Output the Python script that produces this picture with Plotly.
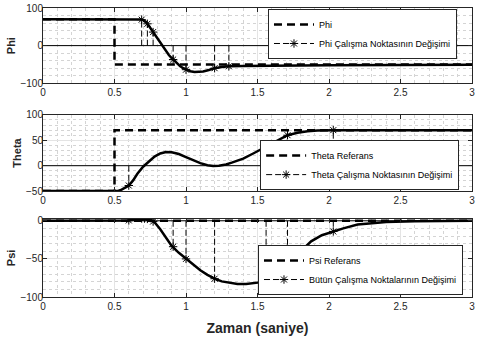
import plotly.graph_objects as go

# ---------------- data ----------------
# reference commands (step at t = 0.5 s)
t_ref = [0, 0.5, 0.5, 3]
phi_ref = [70, 70, -50, -50]
theta_ref = [-50, -50, 70, 70]
psi_ref = [0, 0, 0, 0]

# Phi response
t_phi = [0, 0.5, 0.6, 0.66, 0.68, 0.70, 0.72, 0.74, 0.76, 0.78, 0.80, 0.82, 0.84,
         0.86, 0.88, 0.90, 0.92, 0.94, 0.96, 0.98, 1.00, 1.03, 1.06, 1.09, 1.12,
         1.16, 1.20, 1.25, 1.30, 1.40, 1.60, 1.80, 2.00, 2.50, 3.00]
phi = [70, 70, 70, 70, 69.5, 68, 63, 53, 42, 30, 18, 7, -4,
       -15, -25, -33, -41, -48, -55, -60, -64, -68, -70, -70.5, -69,
       -65, -60, -57, -55, -54, -53, -52.5, -52, -51.5, -51]

# Theta response
t_theta = [0, 0.5, 0.52, 0.55, 0.58, 0.60, 0.63, 0.66, 0.70, 0.74, 0.78, 0.82,
           0.86, 0.90, 0.95, 1.00, 1.05, 1.10, 1.15, 1.19, 1.23, 1.28, 1.32,
           1.40, 1.47, 1.53, 1.56, 1.60, 1.65, 1.71, 1.78, 1.85, 1.92, 2.03, 3.00]
theta = [-50, -50, -50, -47, -43, -39, -29, -16, -2, 9, 18, 24,
         27, 26.5, 23, 17, 10.5, 5, 1, -0.5, 0, 2.5, 6,
         14, 24, 33, 37.5, 44, 52, 60, 65, 68, 69.5, 70, 70]

# Psi response
t_psi = [0, 0.5, 0.55, 0.60, 0.65, 0.69, 0.72, 0.75, 0.78, 0.82, 0.86, 0.90,
         0.95, 1.00, 1.05, 1.10, 1.15, 1.20, 1.25, 1.30, 1.36, 1.42, 1.48,
         1.53, 1.56, 1.60, 1.65, 1.70, 1.75, 1.80, 1.875, 1.95, 2.03, 2.10,
         2.20, 2.30, 2.40, 2.60, 3.00]
psi = [0, 0, 0, 0.5, 2, 3, 3, 1.5, -2, -11, -22, -33,
       -42, -50, -58, -65, -71, -76, -79.5, -81.5, -83, -83, -82,
       -80.5, -79, -75, -68, -59, -49, -40, -27, -19, -14, -10,
       -5, -3, -1.5, -0.5, 0]

# operating point changes
op_t_phi = [0.69, 0.73, 0.77, 0.91, 1.00, 1.20, 1.30]
op_v_phi = [69, 58, 36, -37, -64, -60, -55]
op_t_theta = [0.60, 1.56, 1.71, 2.03]
op_v_theta = [-39, 37.5, 60, 70]
op_t_psi = [0.60, 0.69, 0.71, 0.73, 0.77, 0.91, 1.00, 1.20, 1.56, 1.71, 2.03]
op_v_psi = [0.5, 3, 3, 2.5, -1, -34, -50, -76, -79, -57, -14]

x_ticks = [0, 0.5, 1, 1.5, 2, 2.5, 3]
x_range = [0, 3]

FONT = "Liberation Sans, Arial, Helvetica, sans-serif"
INK = "#262626"

fig = go.Figure()


def stem_xy(ts, vs):
    xs, ys = [], []
    for t, v in zip(ts, vs):
        xs += [t, t, None]
        ys += [0, v, None]
    return xs, ys


star = dict(symbol="asterisk-open", size=7, color="black",
            line=dict(color="black", width=1))

panels = [
    ("x", "y", t_ref, phi_ref, t_phi, phi, op_t_phi, op_v_phi,
     "Phi", "Phi Çalışma Noktasının Değişimi", "legend"),
    ("x2", "y2", t_ref, theta_ref, t_theta, theta, op_t_theta, op_v_theta,
     "Theta Referans", "Theta Çalışma Noktasının Değişimi", "legend2"),
    ("x3", "y3", t_ref, psi_ref, t_psi, psi, op_t_psi, op_v_psi,
     "Psi Referans", "Bütün Çalışma Noktalarının Değişimi", "legend3"),
]

for xa, ya, tr, vr, tc, vc, ot, ov, ref_name, op_name, leg in panels:
    # stem baseline
    fig.add_trace(go.Scatter(x=x_range, y=[0, 0], xaxis=xa, yaxis=ya, mode="lines",
                             line=dict(color="black", width=1), showlegend=False,
                             hoverinfo="skip"))
    # reference
    fig.add_trace(go.Scatter(x=tr, y=vr, xaxis=xa, yaxis=ya, mode="lines",
                             line=dict(color="black", width=2.5, dash="8px,5px"),
                             name=ref_name, legend=leg))
    # response
    fig.add_trace(go.Scatter(x=tc, y=vc, xaxis=xa, yaxis=ya, mode="lines",
                             line=dict(color="black", width=2.5), showlegend=False))
    # operating point stems
    sx, sy = stem_xy(ot, ov)
    fig.add_trace(go.Scatter(x=sx, y=sy, xaxis=xa, yaxis=ya, mode="lines",
                             line=dict(color="black", width=1, dash="6px,3px"),
                             showlegend=False, legendgroup=op_name))
    fig.add_trace(go.Scatter(x=ot, y=ov, xaxis=xa, yaxis=ya, mode="markers",
                             marker=star, showlegend=False, legendgroup=op_name))
    # legend entry for the stems
    fig.add_trace(go.Scatter(x=[None], y=[None], xaxis=xa, yaxis=ya,
                             mode="lines+markers",
                             line=dict(color="black", width=1, dash="6px,3px"),
                             marker=star, name=op_name, legend=leg,
                             legendgroup=op_name))

axis_common = dict(
    showline=True, mirror="ticks", linecolor=INK, linewidth=1,
    ticks="inside", ticklen=4, tickcolor=INK,
    showgrid=True, gridcolor="#e4e4e4", gridwidth=1, zeroline=False,
    tickfont=dict(family=FONT, size=10, color=INK),
    ticklabeloverflow="allow",
)


def minor(d):
    return dict(dtick=d, showgrid=True, griddash="dot", gridcolor="#d4d4d4", ticks="")


plot_h = 292


def dom(top_px, bot_px):
    return [(297 - bot_px) / plot_h, (297 - top_px) / plot_h]


ytitle_font = dict(family=FONT, size=11, color=INK)
y_common = dict(axis_common, ticklabelstandoff=-3)

layout = dict(
    width=477, height=347,
    margin=dict(l=43, r=2, t=5, b=50),
    paper_bgcolor="white", plot_bgcolor="white",
    xaxis=dict(axis_common, range=x_range, tickvals=x_ticks, anchor="y",
               minor=minor(0.1)),
    xaxis2=dict(axis_common, range=x_range, tickvals=x_ticks, anchor="y2",
                minor=minor(0.1)),
    xaxis3=dict(axis_common, range=x_range, tickvals=x_ticks, anchor="y3",
                minor=minor(0.1),
                title=dict(text="<b>Zaman (saniye)</b>", standoff=12,
                           font=dict(family=FONT, size=14, color=INK))),
    yaxis=dict(y_common, range=[-100, 100], tickvals=[-100, 0, 100],
               domain=dom(5, 81), anchor="x", minor=minor(20),
               title=dict(text="<b>Phi</b>", standoff=2, font=ytitle_font)),
    yaxis2=dict(y_common, range=[-50, 100], tickvals=[-50, 0, 50, 100],
                domain=dom(113, 190), anchor="x2", minor=minor(10),
                title=dict(text="<b>Theta</b>", standoff=2, font=ytitle_font)),
    yaxis3=dict(y_common, range=[-100, 2.6], tickvals=[-100, -50, 0],
                domain=dom(218, 297), anchor="x3", minor=minor(10),
                title=dict(text="<b>Psi</b>", standoff=2, font=ytitle_font)),
)

leg_common = dict(
    bgcolor="white", bordercolor=INK, borderwidth=1,
    font=dict(family=FONT, size=9, color="black"),
    xanchor="right", itemwidth=40, tracegroupgap=0,
)
layout["legend"] = dict(leg_common, x=0.965, y=(297 - 6) / plot_h, yanchor="top")
layout["legend2"] = dict(leg_common, x=0.970, y=(297 - 189) / plot_h, yanchor="bottom")
layout["legend3"] = dict(leg_common, x=0.979, y=(297 - 295) / plot_h, yanchor="bottom")

fig.update_layout(**layout)
fig.write_html("out.html")
